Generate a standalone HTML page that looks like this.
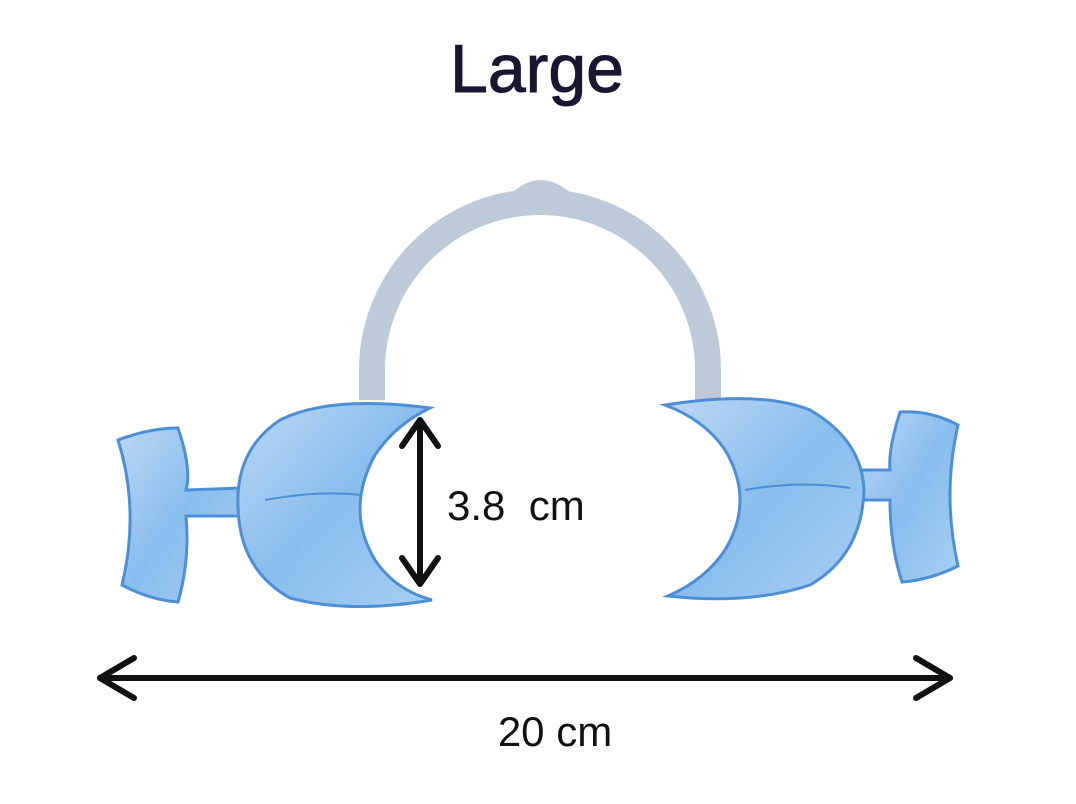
<!DOCTYPE html>
<html><head><meta charset="utf-8"><style>
html,body{margin:0;padding:0;background:#fff;}
svg{display:block}
</style></head><body>
<svg width="1076" height="804" viewBox="0 0 1076 804" xmlns="http://www.w3.org/2000/svg">
<defs>
<linearGradient id="cup" x1="0" y1="0" x2="1" y2="1">
<stop offset="0" stop-color="#bcd8f4"/><stop offset="0.5" stop-color="#88bdec"/><stop offset="1" stop-color="#a8cff2"/>
</linearGradient>
</defs>
<rect width="1076" height="804" fill="#fff"/>
<text x="537" y="92" text-anchor="middle" font-family="Liberation Sans, sans-serif" font-size="68" fill="#1a1530" stroke="#1a1530" stroke-width="1">Large</text>
<!-- arc band -->
<path d="M372 400 L372 370 A168 168 0 0 1 708 370 L708 400" fill="none" stroke="#bccad9" stroke-width="26"/>
<path d="M505 200 Q540 160 578 200 Z" fill="#bccad9"/>
<!-- left handle -->
<path d="M118 440 Q150 428 178 428 Q192 470 186 490 L240 488 L240 516 L186 516 Q190 560 178 602 Q150 600 122 585 Q140 510 118 440 Z" fill="url(#cup)" stroke="#4d8fd6" stroke-width="3"/>
<!-- left cup -->
<path d="M430 408 Q330 395 280 420 Q235 450 238 508 Q240 570 290 598 Q350 614 432 600 Q395 590 375 560 Q345 510 375 455 Q395 425 430 408 Z" fill="url(#cup)" stroke="#4d8fd6" stroke-width="3"/>
<path d="M265 500 Q320 490 360 495" stroke="#4d8fd6" stroke-width="2" fill="none"/>
<!-- right handle -->
<path d="M958 425 Q930 410 900 412 Q888 450 890 470 L860 470 L860 500 L890 500 Q890 545 902 582 Q930 580 958 566 Q942 495 958 425 Z" fill="url(#cup)" stroke="#4d8fd6" stroke-width="3"/>
<!-- right cup -->
<path d="M665 405 Q760 390 810 410 Q862 440 864 490 Q862 555 810 585 Q750 605 668 596 Q705 580 725 550 Q755 500 725 450 Q705 420 665 405 Z" fill="url(#cup)" stroke="#4d8fd6" stroke-width="3"/>
<path d="M745 490 Q800 480 850 488" stroke="#4d8fd6" stroke-width="2" fill="none"/>
<!-- arrows -->
<g stroke="#111" stroke-width="6" fill="none" stroke-linecap="round" stroke-linejoin="round">
<line x1="420" y1="422" x2="420" y2="582"/>
<polyline points="402,446 420,420 438,446"/>
<polyline points="402,558 420,584 438,558"/>
<line x1="100" y1="678" x2="950" y2="678"/>
<polyline points="134,658 100,678 134,698"/>
<polyline points="916,658 950,678 916,698"/>
</g>
<text x="447" y="520" font-family="Liberation Sans, sans-serif" font-size="42" fill="#111" xml:space="preserve">3.8  cm</text>
<text x="555" y="746" text-anchor="middle" font-family="Liberation Sans, sans-serif" font-size="42" fill="#111">20 cm</text>
</svg>
</body></html>
